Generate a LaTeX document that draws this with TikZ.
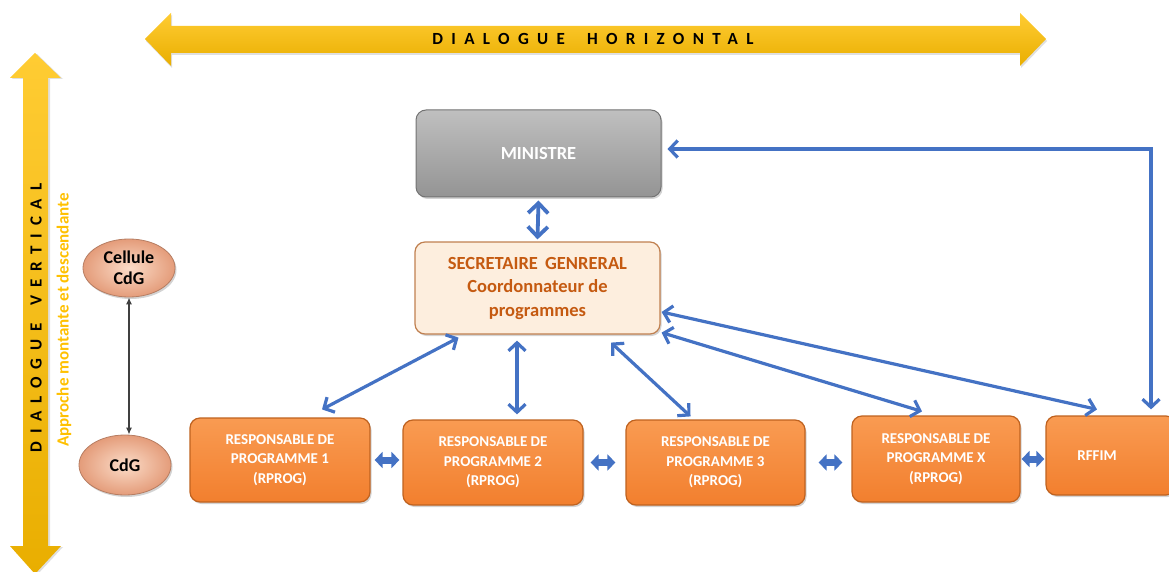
\documentclass[tikz,border=0pt]{standalone}
\usepackage{fontspec}
\setmainfont{Carlito}
\usetikzlibrary{arrows.meta,shapes.geometric,shadows}
\definecolor{linkblue}{HTML}{4472C4}
\definecolor{goldtop}{HTML}{FFCC33}
\definecolor{goldbot}{HTML}{E9AE00}
\definecolor{goldtxt}{HTML}{FFC000}
\definecolor{sgtext}{HTML}{C55A11}
\definecolor{sgfill}{HTML}{FDEEDE}
\definecolor{sgline}{HTML}{C08050}
\definecolor{orgtop}{HTML}{F99B52}
\definecolor{orgbot}{HTML}{F27F2E}
\definecolor{orgline}{HTML}{BF621F}
\definecolor{peachin}{HTML}{FBDCC8}
\definecolor{peachout}{HTML}{E49C7A}
\tikzset{
  barb/.tip={Straight Barb[length=8pt,width=17pt]},
  bigbarb/.tip={Straight Barb[length=10pt,width=20pt]},
  tri/.tip={Triangle[length=8pt,width=16pt]},
  dk/.tip={Latex[length=7pt,width=6pt]},
  softshadow/.style={drop shadow={shadow xshift=1.5pt,shadow yshift=-2pt,opacity=0.35}},
  ministrebox/.style={rounded corners=10pt, top color=black!25, bottom color=black!42,
    draw=black!55, line width=1pt, softshadow, text=white, align=center,
    font=\bfseries\fontsize{18.5}{22}\selectfont, minimum width=245pt, minimum height=87pt},
  sgbox/.style={rounded corners=10pt, fill=sgfill, draw=sgline, line width=1.2pt,
    softshadow, text=sgtext, align=center,
    font=\bfseries\fontsize{18.5}{23.5}\selectfont, minimum width=245pt, minimum height=92pt},
  rpbox/.style={rounded corners=10pt, top color=orgtop, bottom color=orgbot,
    draw=orgline, line width=1.2pt, softshadow, text=white, align=center,
    font=\bfseries\fontsize{15}{19.5}\selectfont, minimum height=85pt},
  cdgell/.style={ellipse, inner color=peachin, outer color=peachout, draw=peachout!80!black,
    line width=0.8pt, softshadow, align=center, font=\bfseries\fontsize{18}{21}\selectfont,
    minimum width=92pt, minimum height=58pt, inner sep=0pt},
  conn/.style={linkblue, line width=3.2pt, arrows={barb-barb}},
  blockconn/.style={linkblue, line width=7pt, arrows={tri-tri}},
  spacedh/.style={font=\bfseries\fontsize{17}{17}\selectfont\addfontfeature{LetterSpace=49}},
  spacedv/.style={font=\bfseries\fontsize{17}{17}\selectfont\addfontfeature{LetterSpace=46}}
}
\begin{document}
\begin{tikzpicture}[x=1pt,y=-1pt]
\useasboundingbox (0,0) rectangle (1169,572);
\clip (0,0) rectangle (1169,572);

% horizontal dialogue band
\shade[top color=goldtop, bottom color=goldbot, drop shadow={shadow xshift=1pt,shadow yshift=-2pt,opacity=0.25}]
  (145,39) -- (171,13) -- (171,26) -- (1020,26) -- (1020,13) -- (1046,39)
  -- (1020,66) -- (1020,53) -- (171,53) -- (171,66) -- cycle;
\node[spacedh] (hz) at (593,39) {DIALOGUE\hspace{10pt} HORIZONTAL};

% vertical dialogue band
\shade[top color=goldtop, bottom color=goldbot, drop shadow={shadow xshift=2pt,shadow yshift=-1pt,opacity=0.25}]
  (35,53) -- (61,78) -- (48,78) -- (48,546) -- (61,546) -- (35,574)
  -- (10,546) -- (23,546) -- (23,78) -- (10,78) -- cycle;
\node[spacedv, rotate=90] (vt) at (36,318) {DIALOGUE\hspace{6pt} VERTICAL};
\node[rotate=90, text=goldtxt, font=\bfseries\fontsize{17}{17}\selectfont] (appr) at (64,320)
  {Approche montante et descendante};

% management control cells
\node[cdgell] (cel) at (129,268) {Cellule\\CdG};
\node[cdgell, minimum height=60pt] (cdg) at (125,465) {CdG};
\draw[black!75, line width=1.3pt, arrows={dk-dk}] (cel.south) -- (cel.south |- cdg.north);

% hierarchy
\node[ministrebox] (min) at (538.5,153.5) {MINISTRE};
\node[sgbox] (sg) at (537.5,288) {SECRETAIRE\hspace{3pt} GENRERAL\\Coordonnateur de\\programmes};

\node[rpbox, minimum width=180pt, minimum height=84pt] (rp1) at (280,460) {RESPONSABLE DE\\PROGRAMME 1\\(RPROG)};
\node[rpbox, minimum width=180pt] (rp2) at (493,462.5) {RESPONSABLE DE\\PROGRAMME 2\\(RPROG)};
\node[rpbox, minimum width=179pt] (rp3) at (715.5,462.5) {RESPONSABLE DE\\PROGRAMME 3\\(RPROG)};
\node[rpbox, minimum width=168pt, minimum height=86pt] (rpx) at (936,459) {RESPONSABLE DE\\PROGRAMME X\\(RPROG)};
\node[rpbox, minimum width=130pt, minimum height=79pt] (rffim) at (1111,455.5) {RFFIM\hspace*{28pt}};

% links between levels
\draw[linkblue, line width=3.8pt, arrows={bigbarb-bigbarb}] ([yshift=-3pt]min.south) -- ([yshift=2pt]sg.north);
\draw[conn] ([xshift=-79pt,yshift=-3pt]sg.south) -- ([xshift=42pt,yshift=8pt]rp1.north);
\draw[conn] ([xshift=-20.5pt,yshift=-6pt]sg.south) -- ([xshift=24pt,yshift=5pt]rp2.north);
\draw[conn] ([xshift=73.5pt,yshift=-8pt]sg.south) -- ([xshift=-25pt,yshift=3pt]rp3.north);
\draw[conn] ([xshift=1pt,yshift=2pt]sg.south east) -- ([xshift=-14pt,yshift=4pt]rpx.north);
\draw[conn] ([xshift=1pt,yshift=-24pt]sg.east) -- ([xshift=-14pt,yshift=6pt]rffim.north);
\draw[conn] ([xshift=40pt,yshift=6pt]rffim.north) |- ([xshift=6pt,yshift=4.5pt]min.east);

% links between programme managers
\draw[blockconn, shorten <=4pt, shorten >=3pt] (rp1.east) -- (rp1.east -| rp2.west);
\draw[blockconn, shorten <=7pt, shorten >=10pt] (rp2.east) -- (rp2.east -| rp3.west);
\draw[blockconn, shorten <=13pt, shorten >=9pt] (rp3.east) -- (rp3.east -| rpx.west);
\draw[blockconn, shorten <=1pt, shorten >=1pt] (rpx.east) -- (rpx.east -| rffim.west);
\end{tikzpicture}
\end{document}
